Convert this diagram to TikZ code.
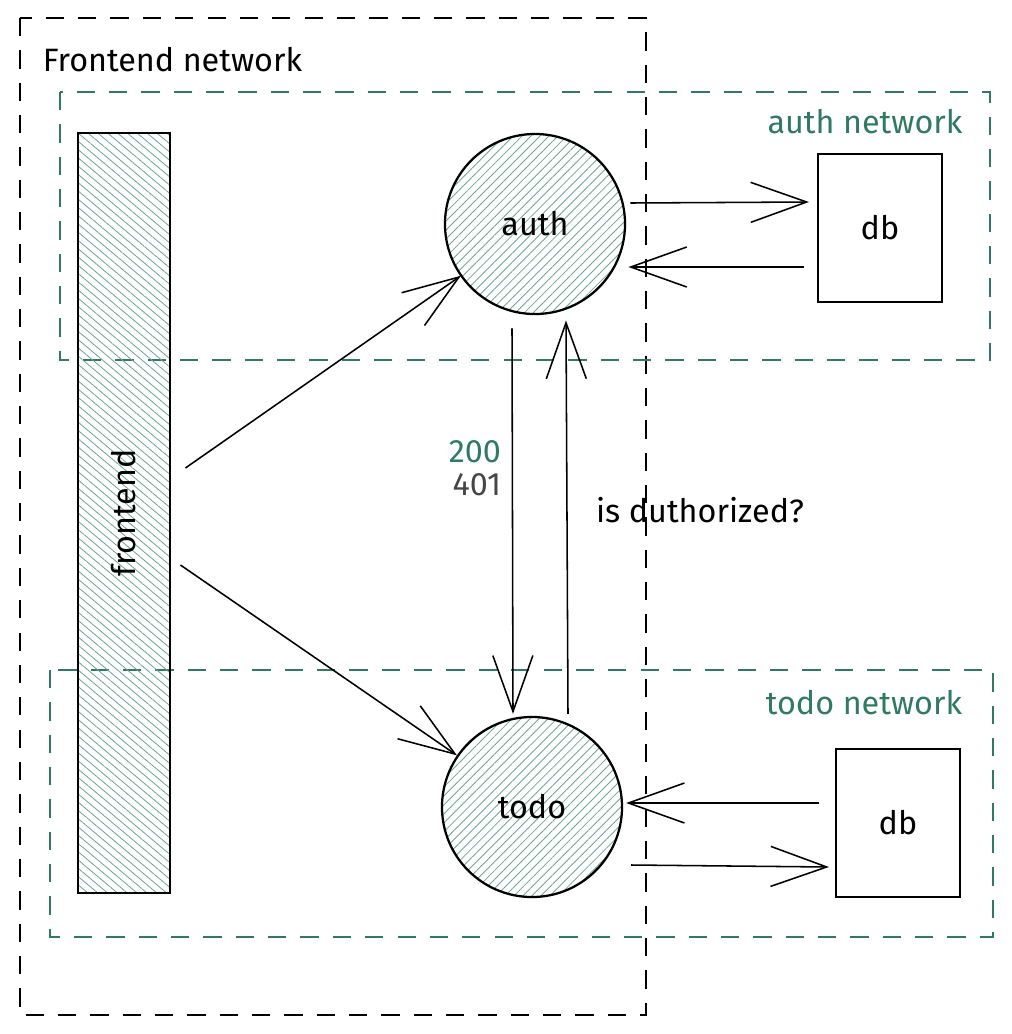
\documentclass[tikz,border=0pt]{standalone}
\usepackage{fontspec}
\setmainfont{Fira Sans}
\usetikzlibrary{calc, positioning, arrows.meta, patterns.meta}
\definecolor{netgreen}{RGB}{47,122,96}
\definecolor{hatchgreen}{RGB}{112,165,150}
\definecolor{codegrey}{RGB}{70,70,70}

\begin{document}
\begin{tikzpicture}[x=0.025cm, y=-0.025cm,
    every node/.style={font=\fontsize{23}{27}\selectfont},
    net/.style={draw, dash pattern=on 13pt off 10pt, line width=1.8pt},
    hatched/.style={pattern={Lines[angle=#1,distance=4.5pt,line width=.6pt]}, pattern color=hatchgreen},
    service/.style={circle, draw, line width=1.6pt, minimum size=4.5cm, hatched=45},
    store/.style={rectangle, draw, line width=1.4pt, minimum width=3.1cm, minimum height=3.7cm},
    arr/.style={-{Straight Barb[length=1.4cm,width=1cm]}, line width=1.1pt}]

    \useasboundingbox (0,0) rectangle (1012,1034);

    % networks
    \draw[net] (20,18) rectangle (646,1015);
    \draw[net, netgreen] (60,92) rectangle (990,360);
    \draw[net, netgreen] (50,670) rectangle (993,937);
    \node[anchor=west] (frontnet) at (38,60) {Frontend network};
    \node[netgreen] (authnet) at (865,122) {auth network};
    \node[netgreen] (todonet) at (864,703) {todo network};

    % services
    \node[draw, rotate=90, line width=1.6pt, minimum width=19cm, minimum height=2.3cm, hatched=-40] (frontend) at (124,513) {frontend};
    \node[service] (auth) at (535,224) {auth};
    \node[service] (todo) at (532,807) {todo};
    \node[store] (authdb) at (880,228) {db};
    \node[store] (tododb) at (898,823) {db};

    \draw[arr] ($(frontend.south)+(15,-45)$) -- (auth);
    \draw[arr] ($(frontend.south)+(10,52)$) -- (todo);

    \draw[arr] ($(auth.south)+(-23,14)$) -- ($(todo.north)+(-19,-2)$);
    \draw[arr] ($(todo.north)+(36,-2)$) -- ($(auth.south)+(31,6)$);
    \node[netgreen, anchor=east] (okcode) at (506,452) {200};
    \node[codegrey, below=0pt of okcode.south east, anchor=north east] (deniedcode) {401};
    \node (askauth) at (700,510) {is duthorized?};

    \draw[arr] ($(auth.east)+(5,-21)$) -- ($(authdb.west)+(-8,-26)$);
    \draw[arr] ($(authdb.west)+(-13,39)$) -- ($(auth.east)+(3,43)$);
    \draw[arr] ($(tododb.west)+(-16,-20)$) -- ($(todo.east)+(3,-4)$);
    \draw[arr] ($(todo.east)+(8,58)$) -- ($(tododb.west)+(-6,44)$);
\end{tikzpicture}
\end{document}
